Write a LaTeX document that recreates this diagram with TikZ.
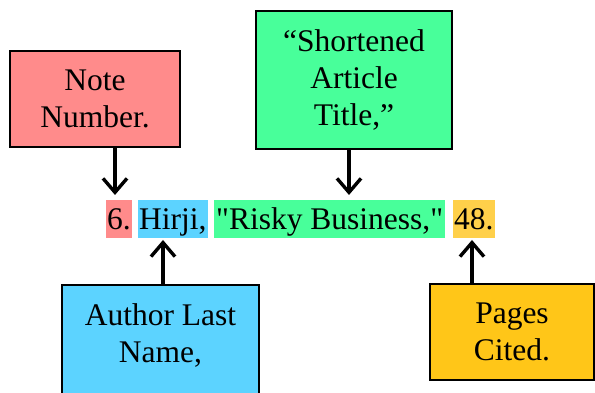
\documentclass[tikz,border=0pt]{standalone}
\usepackage{fontspec}
\setmainfont{Liberation Serif}[Ligatures=TeXOff]
\usetikzlibrary{arrows.meta}
\definecolor{cred}{HTML}{FF8B8B}
\definecolor{cgreen}{HTML}{48FF9A}
\definecolor{cblue}{HTML}{5CD3FF}
\definecolor{cyel}{HTML}{FFC618}
\definecolor{cyellt}{HTML}{FFD04A}
\begin{document}
\begin{tikzpicture}[x=1pt,y=1pt,
  every node/.style={font=\fontsize{31.5}{37}\selectfont},
  lbox/.style={draw=black,line width=2.5pt,minimum width=#1,inner sep=0pt},
  txt/.style={align=center,inner sep=0pt},
  hl/.style={fill=#1,anchor=base west,inner xsep=1pt,inner ysep=0pt,text height=30pt,text depth=8pt},
  arr/.style={line width=3.4pt,-{Straight Barb[length=14pt,width=24pt,line width=3.4pt]}}]
\useasboundingbox (0,0) rectangle (595,393);
\clip (0,0) rectangle (595,393);
% citation line
\node[hl=cred,minimum width=25pt] (n6) at (106,163) {6.};
\node[hl=cblue,minimum width=69pt] (nh) at (138,163) {Hirji,};
\node[hl=cgreen,minimum width=231pt] (nt) at (214,163) {"Risky Business,"};
\node[hl=cyellt,minimum width=41pt] (np) at (453,163) {48.};
% boxes
\node[lbox=170pt,minimum height=96pt,fill=cred,txt] (note) at (95,294) {Note\\Number.};
\node[lbox=196pt,minimum height=138pt,fill=cgreen,txt] (title) at (354,313) {“Shortened\\Article\\Title,”};
\node[lbox=197pt,minimum height=125pt,fill=cblue] (author) at (160.5,45.5) {};
\node[txt] (authort) at (160.5,58) {Author Last\\Name,};
\node[lbox=164pt,minimum height=96pt,fill=cyel,txt] (pages) at (512,61) {Pages\\Cited.};
% arrow ends
\coordinate (a1) at (115,198);
\coordinate (a2) at (349,198);
\coordinate (a3) at (163,153);
\coordinate (a4) at (472,153);
\draw[arr] (note.south -| a1) -- (a1);
\draw[arr] (title.south -| a2) -- (a2);
\draw[arr] (author.north -| a3) -- (a3);
\draw[arr] (pages.north -| a4) -- (a4);
\end{tikzpicture}
\end{document}
